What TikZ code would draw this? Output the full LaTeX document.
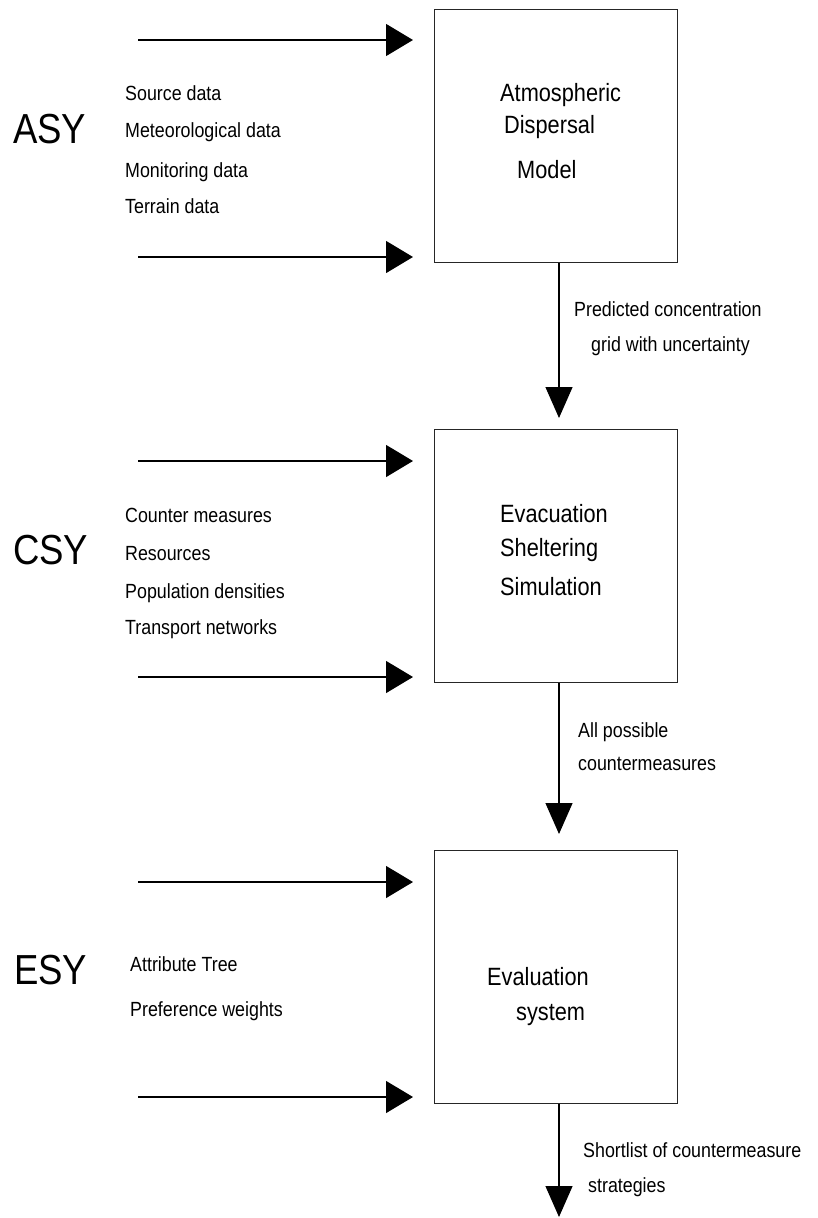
\documentclass[tikz,border=0pt]{standalone}
\usepackage{fontspec}
\setmainfont{Liberation Sans}[FakeStretch=0.87]
\usetikzlibrary{arrows.meta}

\begin{document}
\begin{tikzpicture}[x=1pt,y=-1pt,
  box/.style={draw=black!85, line width=1.3pt, minimum width=243pt,
    minimum height=253pt, anchor=north west, inner sep=0pt},
  lbl/.style={anchor=base west, inner sep=0pt, font=\fontsize{20.5}{24}\selectfont},
  boxtxt/.style={anchor=base west, inner sep=0pt, font=\fontsize{25}{28}\selectfont},
  sys/.style={anchor=base west, inner sep=0pt, font=\fontsize{42}{48}\selectfont},
  feed/.style={line width=1.2pt, -{Triangle[length=27pt,width=32pt]}},
  flow/.style={line width=1.2pt, -{Triangle[length=31pt,width=27pt]}}]

\useasboundingbox[fill=white] (0,0) rectangle (817,1218);

% ---- the three model boxes
\node[box] (adm) at (434,9) {};
\node[box] (ess) at (434,429) {};
\node[box] (evs) at (434,850) {};

% ---- box captions
\node[boxtxt] (adm1) at (500,101) {Atmospheric};
\node[boxtxt] (adm2) at (504,133) {Dispersal};
\node[boxtxt] (adm3) at (517,178) {Model};

\node[boxtxt] (ess1) at (500,522) {Evacuation};
\node[boxtxt] (ess2) at (500,556) {Sheltering};
\node[boxtxt] (ess3) at (500,595) {Simulation};

\node[boxtxt] (evs1) at (487,985) {Evaluation};
\node[boxtxt] (evs2) at (516,1020) {system};

% ---- subsystem names
\node[sys] (asy) at (13,143) {ASY};
\node[sys] (csy) at (13,564) {CSY};
\node[sys] (esy) at (14,984) {ESY};

% ---- input lists
\node[lbl] (in1) at (125,100) {Source data};
\node[lbl] (in2) at (125,137) {Meteorological data};
\node[lbl] (in3) at (125,177) {Monitoring data};
\node[lbl] (in4) at (125,213) {Terrain data};

\node[lbl] (in5) at (125,522) {Counter measures};
\node[lbl] (in6) at (125,560) {Resources};
\node[lbl] (in7) at (125,598) {Population densities};
\node[lbl] (in8) at (125,634) {Transport networks};

\node[lbl] (in9) at (130,971) {Attribute Tree};
\node[lbl] (in10) at (130,1016) {Preference weights};

% ---- feed arrows into each box
\foreach \n/\y in {a/40, b/257, c/461, d/677, e/882, f/1097}{
  \coordinate (s\n) at (138,\y);
  \coordinate (t\n) at (413,\y);
  \draw[feed] (s\n) -- (t\n);
}

% ---- flow between boxes
\coordinate (f1) at (559,418);
\coordinate (f2) at (559,834);
\coordinate (f3) at (559,1217);
\draw[flow] (adm.south -| f1) -- (f1);
\draw[flow] (ess.south -| f2) -- (f2);
\draw[flow] (evs.south -| f3) -- (f3);

\node[lbl] (o1a) at (574,316) {Predicted concentration};
\node[lbl] (o1b) at (591,351) {grid with uncertainty};
\node[lbl] (o2a) at (578,737) {All possible};
\node[lbl] (o2b) at (578,770) {countermeasures};
\node[lbl] (o3a) at (583,1157) {Shortlist of countermeasure};
\node[lbl] (o3b) at (588,1192) {strategies};

\end{tikzpicture}
\end{document}
